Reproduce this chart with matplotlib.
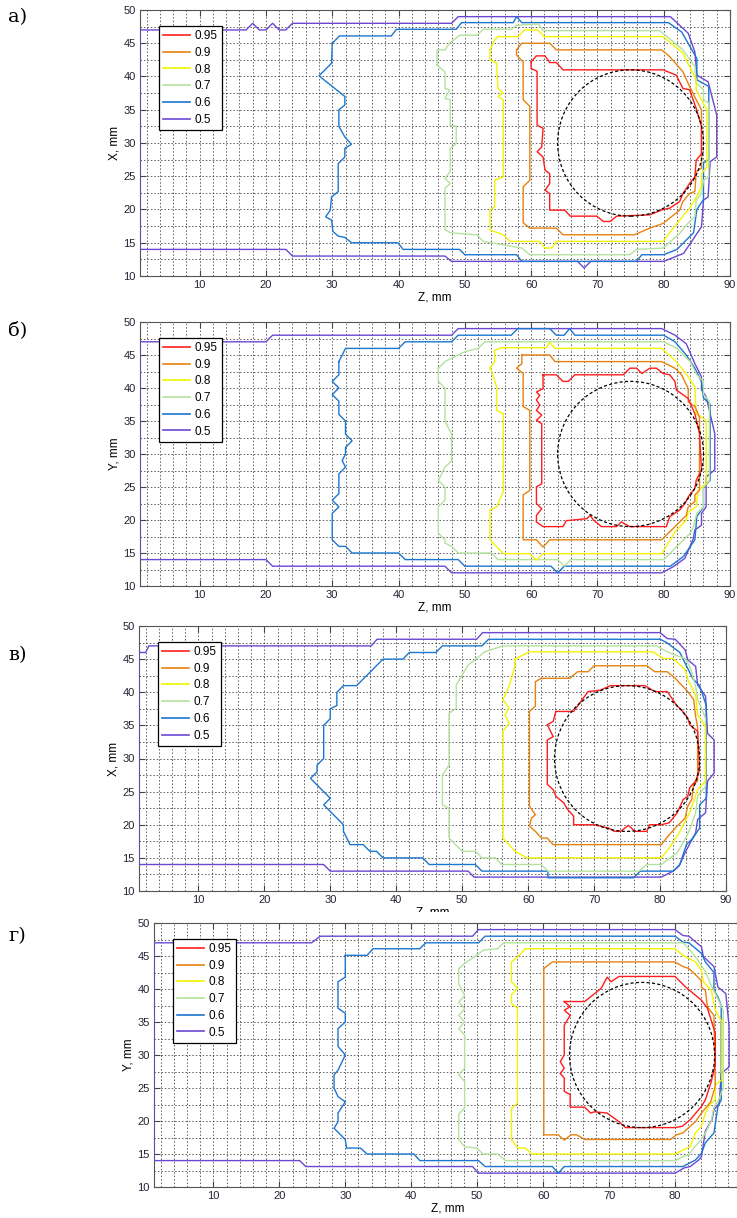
import matplotlib
matplotlib.use("Agg")
import matplotlib.pyplot as plt
from matplotlib.lines import Line2D
from matplotlib.patches import Circle, Rectangle
from matplotlib.ticker import MultipleLocator

plt.rcParams['font.family'] = ['Liberation Sans', 'DejaVu Sans']

levels = ['0.95', '0.9', '0.8', '0.7', '0.6', '0.5']
colors = ['#ff1c1c', '#e8820e', '#f4f400', '#b3e39c', '#1c76d0', '#6a48d4']
panel_tags = ['а)', 'б)', 'в)', 'г)']
ylabels = ['X, mm', 'Y, mm', 'X, mm', 'Y, mm']
x_ticks = [10, 20, 30, 40, 50, 60, 70, 80, 90]
y_ticks = [10, 15, 20, 25, 30, 35, 40, 45, 50]
circle_z, circle_y, circle_r = 75, 30, 11

# ---- panel a (Z, X) ----
a_095 = [(60, 42.2), (60.8, 43.1), (62.1, 43.1), (62.8, 42.1), (63.8, 42.1), (64.8, 41), (79.9, 41), (81.9, 40.2),
         (82.9, 38.2), (83.9, 38), (84.9, 35.2), (85.7, 32.5), (85.7, 28.4), (84.9, 27.4), (84.7, 24.9), (83.9, 23.9),
         (82.9, 22.4), (82.4, 21.2), (80.9, 20.2), (79.9, 20), (77.9, 19.2), (72.9, 19), (71.9, 18.2), (70.9, 18.2),
         (69.9, 19), (65.9, 19), (65.1, 19.9), (62.8, 19.9), (62.8, 22.4), (62.1, 22.9), (62.8, 23.9), (62.8, 25.4),
         (62.1, 25.9), (61.8, 27.9), (60.9, 28.7), (61.6, 29.4), (61.8, 32.2), (60.9, 32.7), (60.9, 40.8), (60, 41.2),
         (60, 42.2)]
a_090 = [(57.8, 44), (58.6, 45), (62.8, 45), (63.8, 44), (79.7, 44), (80.9, 43), (82.9, 40.7), (83.9, 38.5),
         (84.9, 36.5), (85.7, 35), (85.7, 26.2), (84.9, 25.7), (84.7, 22.7), (83.9, 22.4), (82.9, 21.2), (82.4, 19.9),
         (79.9, 17.9), (77.9, 17.2), (75.6, 16.2), (64.8, 16.2), (63.8, 17.2), (59.8, 17.2), (58.8, 18), (58.8, 23.4),
         (59.8, 24.4), (59.8, 35.5), (58.8, 36.5), (58.8, 42.2), (57.8, 43.2), (57.8, 44)]
a_080 = [(53.8, 44), (54.5, 45.5), (55, 46), (58, 46), (59, 47), (61, 47), (62, 46), (79.9, 46), (82.9, 43.5),
         (83.9, 41.5), (84.9, 39.5), (84.9, 38), (85.7, 36.5), (86.5, 35), (86.5, 26.4), (85.7, 25.4), (85.7, 23.4),
         (84.7, 21.4), (83.9, 20.2), (82.4, 18.4), (79.9, 15.2), (63.8, 15.2), (63.1, 14.2), (62.1, 14.2),
         (61.3, 15.2), (56.8, 15.2), (55.8, 16.2), (53.8, 16.9), (53.8, 19.9), (54.5, 20.4), (54.5, 24.4),
         (55.8, 24.9), (55.8, 36.5), (55, 37), (55.8, 37.5), (55, 38.2), (54.8, 42), (53.8, 42.5), (53.8, 44)]
a_070 = [(45.8, 41.7), (45.8, 44), (47, 44), (47.7, 45), (49.2, 46.2), (51.8, 46.2), (52.8, 47.1), (57, 47.1),
         (57.8, 47.7), (61.1, 47.9), (61.8, 46.9), (79.4, 46.9), (82.9, 44), (84.7, 41.5), (84.9, 39), (86, 38),
         (86, 36.5), (86.8, 36), (86.8, 24.9), (86, 24.4), (85.7, 22.4), (84.9, 21.4), (84.7, 18.9), (83.9, 18.2),
         (82.4, 16.4), (79.9, 14.2), (75.9, 14), (74.9, 13.2), (59.8, 13.2), (58.6, 14.2), (52.8, 15.2),
         (51.8, 16.2), (47.8, 16.5), (47, 17), (47, 23.2), (47.8, 23.9), (47, 24.7), (47.8, 25.7), (47.8, 29.2),
         (48.7, 29.9), (48.7, 32.5), (47.8, 32.7), (47.8, 36.5), (47, 36.7), (47.7, 38), (47, 38.2), (47, 40.7),
         (45.8, 41.7)]
a_060 = [(30, 45), (31.1, 46.1), (38.9, 46.1), (39.7, 47.1), (48.7, 47.1), (49.5, 48.1), (57.3, 48.1), (57.8, 49),
         (58.6, 48.1), (80.7, 48.1), (82.7, 46.7), (85, 42.7), (85, 39.5), (86.8, 38.5), (86.8, 27.5), (86, 27),
         (86, 21.5), (85, 20), (84.5, 16.5), (82, 14), (80, 13.2), (76.7, 13.2), (75.9, 12.2), (58.6, 12.2),
         (57.8, 13.2), (50, 13.2), (49.2, 14), (40.7, 14), (39.9, 15), (32.9, 15), (31.9, 15.8), (30.9, 16),
         (30.1, 16.7), (29.9, 18.4), (29, 18.9), (29.7, 19.9), (29.9, 21.9), (30.9, 22.7), (30.9, 26.9),
         (31.9, 27.9), (31.9, 29.2), (32.9, 29.8), (31.9, 30.9), (31, 32.5), (31, 35), (31.9, 35.7), (31.9, 37),
         (28, 40.1), (29.9, 42), (30, 45)]
a_050 = [(1, 47), (17, 47), (18, 48), (19, 47), (20, 47), (21, 48), (22, 47), (23, 47), (24, 48), (48, 48), (49, 49),
         (81, 49), (83.7, 46.5), (84.7, 43.7), (85, 40.2), (86.7, 39.2), (88, 34.2), (88, 27.9), (87, 27.2),
         (86.7, 21.9), (86, 21.4), (85.7, 17.4), (83, 13.4), (80, 12.2), (69, 12.2), (68, 11.2), (67, 12.2),
         (48, 12.2), (47, 13), (24, 13), (23, 14), (1, 14), (1, 47)]

# ---- panel b (Z, Y) ----
b_095 = [(61.8, 42), (63.8, 42), (64.8, 41), (65.6, 41), (66.6, 42), (73.9, 42), (74.9, 43), (75.9, 43), (76.7, 42.2),
         (77.9, 43), (78.9, 43), (79.9, 42.2), (80.9, 42), (81.7, 41), (81.9, 39.7), (83.7, 38.4), (84.7, 36.1),
         (85.4, 33.1), (85.7, 27.6), (84.9, 26), (84.7, 24.8), (83.7, 23.5), (83.2, 22.5), (82.4, 21.5),
         (80.9, 20.5), (80.4, 19), (74.9, 19), (73.6, 19.7), (72.9, 19), (70.6, 19), (69.4, 20), (68.9, 20.7),
         (68.4, 20.2), (65.3, 19.9), (64.8, 19), (61.8, 19), (60.8, 19.7), (60.8, 20.7), (61.6, 21.7), (60.8, 22.5),
         (60.8, 25), (61.6, 25.5), (61.6, 34.6), (60.8, 35.1), (61.6, 35.9), (60.8, 36.6), (61.3, 37.4),
         (60.8, 38.2), (61.3, 38.9), (60.8, 39.4), (61.8, 39.9), (61.8, 42)]
b_090 = [(58.6, 45), (62.8, 45), (63.6, 44), (79.7, 44), (81.7, 43), (82.7, 42), (83.7, 39.9), (83.7, 37.9),
         (84.7, 37.2), (85.4, 35.6), (85.4, 24.5), (84.7, 23.8), (84.7, 22.8), (83.7, 22), (83.4, 20.7), (81.7, 19),
         (79.7, 17), (62.8, 17), (61.8, 15.9), (60.8, 17), (58.8, 17), (58.8, 23.8), (59.8, 24.5), (59.8, 36.6),
         (58.8, 37.2), (58.8, 42.2), (57.8, 43), (58.6, 43.7), (58.6, 45)]
b_080 = [(53.8, 43), (54.5, 44), (54.5, 45.7), (55.5, 46.1), (62.3, 46.1), (62.8, 46.9), (63.6, 46), (79.7, 46),
         (81.7, 44.2), (82.7, 43), (83.7, 41.7), (84.7, 40.2), (84.9, 36.1), (86.4, 35.1), (86.4, 25.5), (85.2, 24.5),
         (84.9, 22), (83.7, 21.2), (83.4, 20), (81.7, 18.2), (79.7, 14.9), (61.8, 14.9), (60.8, 13.9), (59.8, 14.9),
         (55.8, 14.9), (53.8, 17), (53.8, 21.5), (54.8, 22), (55.8, 24.3), (55.8, 36.1), (54.8, 36.6), (54.8, 40.2),
         (54, 42.7), (53.8, 43)]
b_070 = [(46, 43), (47, 44), (48, 44.5), (49, 45), (50, 45.5), (52, 46), (53, 47), (80, 47), (82, 46), (84, 44),
         (85, 42), (86, 41), (86, 39), (86.9, 38), (86.9, 26), (86, 25), (86, 22), (85, 21), (84.5, 19), (84, 18),
         (82, 16), (80, 14), (66, 14), (65, 13), (64, 14), (55, 14), (54, 15), (49, 15), (48, 16), (47, 16.5),
         (47, 17), (46, 18), (46, 22), (47, 23), (47, 25), (46, 26), (47, 28), (48, 29), (48, 33), (47, 35),
         (47, 40), (46, 41), (46, 43)]
b_060 = [(31, 44), (32, 46), (40, 46), (41, 47), (48, 47), (49, 48), (57, 48), (58, 49), (62.8, 49), (63.8, 48),
         (65, 48), (65.8, 49), (66.6, 48), (80, 48), (81.7, 47), (83.4, 45), (84.7, 43), (85.7, 41), (86, 38.5),
         (87, 37.5), (87, 26), (86, 25), (86, 22), (85, 20.5), (84.7, 17), (83, 14.5), (81, 13), (65, 13), (64, 12),
         (63, 13), (50, 13), (49, 14), (41, 14), (40, 15), (33, 15), (32, 16), (31, 16), (30, 17), (30, 21), (31, 22),
         (30, 23), (31, 24), (31, 27), (32, 28), (31.5, 29), (32, 30), (32, 31), (33, 32), (32, 33), (32, 35),
         (31, 36), (31, 38), (30, 39), (31, 40), (30, 41), (31, 42), (31, 44)]
b_050 = [(1, 47), (20, 47), (21, 48), (48, 48), (49, 49), (79.7, 49), (81.7, 48), (83.4, 46.7), (84.7, 43.7),
         (85.7, 41.7), (85.7, 39.7), (86.4, 38.7), (87.7, 33.1), (87.7, 27.6), (86.4, 26.5), (86.4, 22), (85.7, 21),
         (85.7, 19.2), (84.7, 18.5), (84.4, 17), (83.2, 14.2), (81.4, 12.9), (79.7, 12), (48, 12), (47, 13),
         (21, 13), (20, 14), (1, 14), (1, 47)]

# ---- panel c (Z, X) ----
c_095 = [(64.2, 37.1), (66.9, 37.1), (68.2, 38.9), (69.1, 40.1), (70.9, 40.3), (72.5, 41), (77.7, 41), (79.2, 40.1),
         (81.1, 40.1), (82.6, 37.9), (83.2, 37.4), (84.2, 36.1), (84.5, 35.1), (85.7, 34.1), (86, 28.3),
         (85.4, 26.6), (84.5, 25.6), (84.2, 24.3), (83.5, 23.8), (82.6, 21.8), (81.4, 20.3), (80.2, 20), (78.4, 20),
         (78, 19), (76.2, 19), (75.2, 19.9), (74, 19), (73.1, 19), (72.2, 19.5), (70, 20), (66.9, 20), (66.9, 21.3),
         (66, 22.3), (65.4, 23.3), (64.2, 24.3), (63.8, 25.3), (62.9, 26.1), (62.9, 32.8), (63.8, 33.3),
         (62.9, 35.1), (63.8, 35.6), (64.2, 37.1)]
c_090 = [(62, 42.1), (66.3, 42.1), (67.5, 43.1), (69.1, 43.1), (70, 44), (78, 44), (79.2, 43.1), (81.1, 43.1),
         (82.3, 42.1), (84.2, 40.1), (85.1, 38.9), (85.4, 36.3), (85.7, 34.8), (85.7, 26.6), (85.1, 26.1),
         (84.8, 23.8), (84.2, 22.8), (83.8, 21), (82.6, 19.8), (81.4, 18.5), (80.2, 17), (63.8, 17), (62.9, 18),
         (62, 18), (61.1, 19), (60.2, 19.8), (60.5, 21), (61.1, 21.5), (60.2, 22.8), (60.2, 37.1), (61.1, 37.9),
         (61.1, 41.6), (62, 42.1)]
c_080 = [(58, 45), (60.2, 46.1), (78.9, 46.1), (80.5, 45.1), (82, 45.1), (83.8, 43.4), (84.2, 41.9), (85.4, 39.6),
         (85.7, 36.6), (86.9, 34.8), (86.9, 26.6), (85.7, 25.3), (84.5, 21.8), (82.9, 18.8), (81.4, 16.5),
         (80.2, 15), (59.8, 15), (58, 16), (56.2, 18), (56.2, 34.1), (57.1, 35.3), (56.5, 36.6), (57.1, 37.6),
         (56.2, 38.9), (57.1, 40.9), (58, 43.9), (58, 45)]
c_070 = [(53.4, 46.1), (56.2, 47), (79.5, 47), (80.5, 46.4), (82.3, 45.6), (83.8, 45.1), (84.5, 43.9), (85.4, 40.9),
         (85.7, 38.9), (86.9, 36.1), (86.9, 25.8), (85.7, 24.3), (85.4, 21.8), (84.5, 19.3), (83.8, 17.8),
         (82.6, 15.8), (80.2, 14), (78, 14), (76.8, 13), (63, 13), (62, 14), (56, 14), (55, 15), (53, 15), (52, 16),
         (50, 16), (49, 17), (48, 18), (48, 22.5), (47, 23), (47, 27.5), (48, 29), (48, 36.8), (49.1, 37.6),
         (49.1, 41.1), (50.9, 44.1), (52.2, 45.1), (53.4, 46.1)]
c_060 = [(80, 48), (81, 47.5), (83, 46), (84, 44), (85, 42), (86, 41), (87, 38), (87, 24), (86, 23), (86, 19.5),
         (85, 18), (84, 17), (83, 14), (82, 13), (77, 13), (76, 12), (63, 12), (63, 13), (53, 13), (52, 14), (45, 14),
         (44, 15), (38, 15), (37, 16), (36, 16), (35, 17), (33, 17), (32, 19), (32, 20), (29, 23), (30, 24), (27, 27),
         (28, 28), (28, 29), (29, 30), (29, 35), (30, 36), (30, 37.5), (31, 38), (31, 40), (32, 41), (34, 41),
         (38, 45), (41, 45), (42, 46), (46, 46), (47, 47), (53, 47), (54, 48), (80, 48)]
c_050 = [(1, 46), (2, 46), (2.5, 47), (36.2, 47), (37.1, 48), (52.2, 48), (53.1, 49), (80, 49), (81.1, 48.1),
         (82.3, 48), (83.8, 46.4), (84.2, 44.9), (85.4, 43.9), (85.7, 41.1), (86.9, 39.4), (87.2, 33.8),
         (88.2, 32.8), (88.2, 27.8), (87.2, 26.6), (86.9, 21.8), (85.7, 20.8), (85.4, 18.8), (83.8, 15.8),
         (82.9, 13.8), (82, 13), (80.2, 12.1), (51.8, 12.1), (50.9, 13), (30, 13), (29, 14), (1, 14), (1, 46)]

# ---- panel d (Z, Y) ----
d_095 = [(63.2, 38.1), (66.3, 38.1), (68.8, 40.1), (69.7, 41.8), (70.3, 41.1), (71.5, 41.9), (80, 41.9),
         (81.6, 40.3), (84, 38.3), (84.9, 37.1), (86.1, 33.3), (86.1, 28.5), (85.5, 26), (84.6, 23.2), (84, 22.2),
         (82.3, 20.2), (81.1, 19.2), (80, 19), (72.5, 19), (71.5, 19.9), (69.7, 21.2), (67.8, 21.4), (67.2, 21.2),
         (66.3, 22.1), (64.1, 22.1), (64.1, 24), (63.2, 24.5), (63.2, 26.5), (62.6, 27.2), (63.2, 28), (62.6, 29),
         (63.2, 30), (63.2, 34.5), (64.1, 36), (63.2, 36.8), (64.1, 37.3), (63.2, 38.1)]
d_090 = [(60.1, 43.1), (61.4, 44.1), (80, 44.1), (81.2, 43.4), (82.1, 43.1), (84, 41.3), (84, 40.3), (84.6, 39.8),
         (84.9, 37.3), (85.9, 36), (86.1, 25.3), (85.4, 22.9), (84, 21.2), (83.1, 19.9), (82.3, 19.2), (81.2, 18.2),
         (80.2, 17.9), (79.3, 17.2), (66.3, 17.2), (65.1, 17.9), (64.2, 17.9), (63.2, 17.1), (62.3, 17.9),
         (60.1, 17.9), (60.1, 43.1)]
d_080 = [(57.3, 46.1), (80, 46.1), (81.2, 45.1), (83.1, 44.1), (84, 42.8), (84.3, 41.1), (85.5, 39.8), (86.1, 36.8),
         (87.1, 35), (87.1, 26.2), (86.1, 25.5), (86.1, 23.2), (85.2, 22.4), (84.6, 21.2), (84, 19.2), (83.1, 18.2),
         (82.3, 16.1), (81.2, 15.6), (80, 15), (58.3, 15), (57.3, 15.9), (56.1, 15.9), (55.2, 17.2), (55.2, 21.9),
         (56.1, 22.7), (56.1, 37.1), (55.2, 37.8), (55.2, 39.1), (56.1, 40.1), (55.2, 41.1), (55.2, 44.1),
         (56.4, 45.1), (57.3, 46.1)]
d_070 = [(49.9, 45.1), (51, 45.9), (53.1, 46.1), (54, 47), (81.2, 47), (82.1, 46.1), (83.3, 44.6), (84.6, 42.6),
         (85.5, 40.5), (86.5, 38.5), (87.3, 36.8), (87.3, 25), (86.5, 22.9), (85.9, 22.2), (85.5, 20), (84.6, 18.2),
         (84, 17.2), (83, 16.1), (82.1, 14.9), (81.2, 14.6), (80, 14), (54.3, 14), (53.1, 15), (50.9, 15),
         (49.9, 15.9), (48.1, 16.1), (47.2, 17.2), (47.2, 21), (48.1, 22), (48.1, 26), (47.2, 27), (48.1, 28),
         (48.1, 33), (47.2, 34), (48.1, 35), (47.2, 36), (48.1, 37), (47.2, 38), (48.1, 39), (47.2, 40.8),
         (47.2, 43.1), (48.4, 44.1), (49.9, 45.1)]
d_060 = [(30, 45.1), (33.3, 45.1), (34.2, 46.1), (41.3, 46.1), (42.2, 47), (50.2, 47), (51.2, 48), (80, 48),
         (81.2, 47.1), (82.1, 47), (84, 45.4), (84.6, 44.1), (85.9, 42.5), (85.9, 39.8), (86.5, 38.8), (87, 37.5),
         (87, 23.2), (86.5, 22.2), (85.9, 18.2), (84.6, 16.7), (84, 15.1), (83.1, 14.1), (81.2, 13.1), (63.2, 13.1),
         (62.3, 12.1), (61.4, 13.1), (51.2, 13.1), (50.2, 14), (41.3, 14), (40.4, 15), (33.3, 15), (32.3, 15.9),
         (30.2, 15.9), (30, 17.2), (28.3, 18.9), (28.9, 19.9), (28.9, 21.2), (30, 22.9), (28.9, 23.7), (28.3, 25),
         (28.3, 27), (28.9, 27.7), (30, 30), (28.9, 31.3), (28.9, 34), (30, 35), (30, 36.3), (28.9, 37.1),
         (28.9, 41.1), (30, 41.8), (30, 45.1)]
d_050 = [(1, 47), (24.9, 47), (26.2, 48), (49.3, 48), (50.2, 49), (80, 49), (81.2, 48.1), (82.1, 48), (84, 46.4),
         (84.3, 44.9), (85.9, 43.4), (86.5, 40.3), (87.7, 39.3), (88.2, 34.3), (88.2, 28.2), (87, 27.2),
         (86.7, 22.7), (85.9, 21.7), (85.6, 20.2), (84.6, 18.5), (84, 14.6), (83.6, 14.1), (82.3, 13.1),
         (81.4, 12.9), (80, 12.1), (50.2, 12.1), (49.3, 13.1), (24, 13.1), (23.1, 14), (1, 14), (1, 47)]

panels = [
    [a_095, a_090, a_080, a_070, a_060, a_050],
    [b_095, b_090, b_080, b_070, b_060, b_050],
    [c_095, c_090, c_080, c_070, c_060, c_050],
    [d_095, d_090, d_080, d_070, d_060, d_050],
]

W, H = 737, 1218
# axes boxes in pixels: left, top, width, height
boxes = [(140, 10, 590, 266), (140, 322, 590, 264), (139, 626, 587, 265), (154, 923, 587, 264)]
tag_y = [17, 330, 655, 936]

fig = plt.figure(figsize=(W / 100, H / 100), dpi=100)

for i, lines in enumerate(panels):
    l, t, w, h = boxes[i]
    ax = fig.add_axes([l / W, 1 - (t + h) / H, w / W, h / H])

    # outer contours first so the inner ones sit on top
    for pts, col in reversed(list(zip(lines, colors))):
        zs = [p[0] for p in pts]
        ys = [p[1] for p in pts]
        ax.plot(zs, ys, color=col, lw=1.0, solid_joinstyle='miter', zorder=3)

    ax.add_patch(Circle((circle_z, circle_y), circle_r, fill=False, ec='black',
                        ls=(0, (2.5, 1.8)), lw=0.9, zorder=4))

    ax.set_xlim(1, 90)
    ax.set_ylim(10, 50)
    ax.set_xticks(x_ticks)
    ax.set_yticks(y_ticks)
    if i == 3:
        # the last panel is cut by the right edge of the page, its 90 label is lost
        ax.set_xticklabels([str(v) if v < 90 else '' for v in x_ticks])
    ax.xaxis.set_minor_locator(MultipleLocator(2))
    ax.yaxis.set_minor_locator(MultipleLocator(2.5))
    ax.grid(which='both', color='#3a3a3a', ls=(0, (2, 2.5)), lw=0.55)
    ax.set_axisbelow(True)
    ax.tick_params(which='major', direction='in', top=True, right=True, length=4,
                   labelsize=8, labelcolor='#222233', color='#444444', pad=3)
    ax.tick_params(which='minor', length=0)
    for s in ax.spines.values():
        s.set_color('#555555')
        s.set_linewidth(0.8)

    ax.set_xlabel('Z, mm', fontsize=8.5, labelpad=1)
    ax.set_ylabel(ylabels[i], fontsize=8.5, labelpad=2)

    handles = [Line2D([], [], color=c, lw=1.2) for c in colors]
    leg = ax.legend(handles, levels, loc='upper left', bbox_to_anchor=(0.032, 0.94),
                    fontsize=8.5, fancybox=False, edgecolor='black', framealpha=1,
                    handlelength=2.3, labelspacing=0.4, borderpad=0.35,
                    handletextpad=0.4, borderaxespad=0)
    leg.get_frame().set_linewidth(0.9)
    leg.set_zorder(10)

    fig.text(8 / W, 1 - tag_y[i] / H, panel_tags[i], fontsize=14, family='DejaVu Serif',
             va='center', ha='left')

# panel d sits over the lower half of panel c's axis label
fig.add_artist(Rectangle((380 / W, 1 - 922 / H), 110 / W, 10 / H, transform=fig.transFigure,
                         facecolor='white', edgecolor='none', zorder=5))

fig.savefig('out.png', dpi=100)
